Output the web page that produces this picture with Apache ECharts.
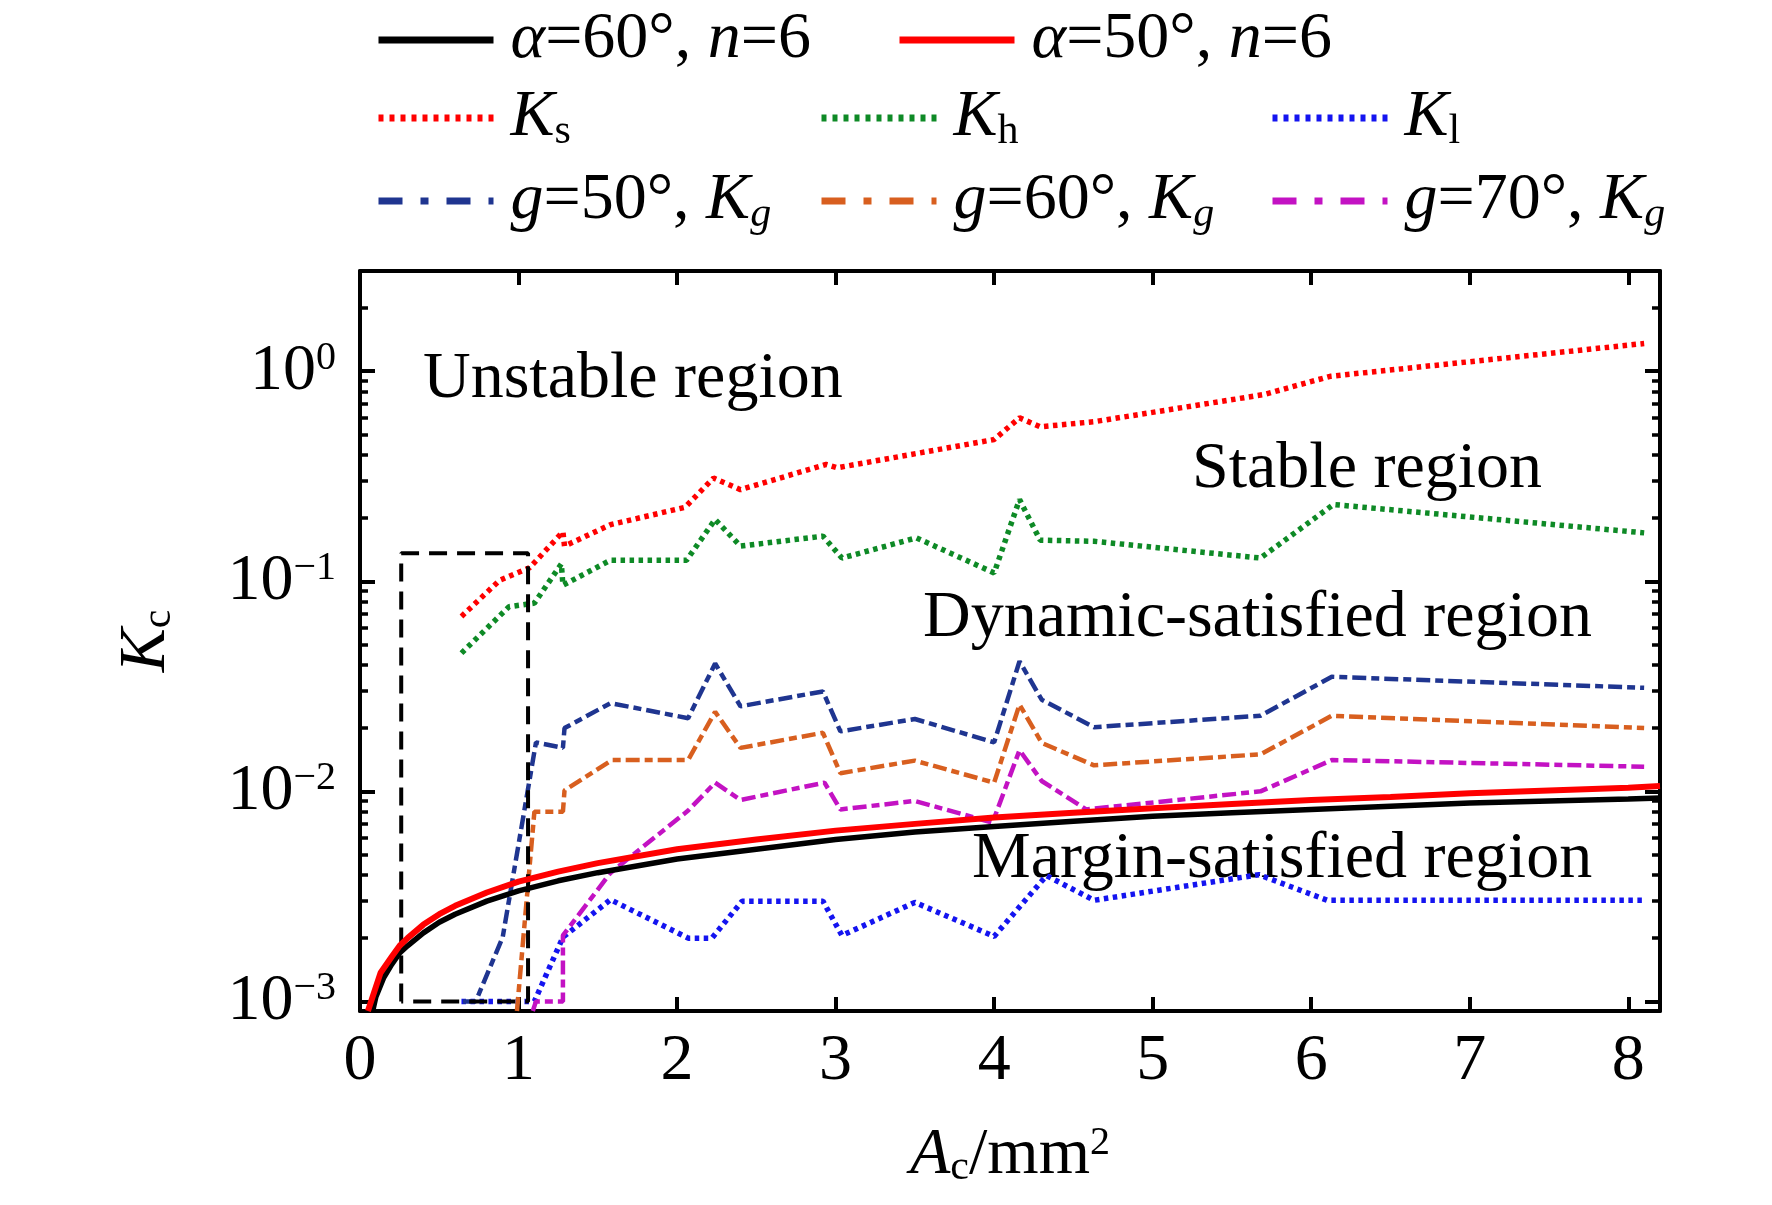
<!DOCTYPE html>
<html>
<head>
<meta charset="utf-8">
<script src="https://cdn.jsdelivr.net/npm/echarts@6/dist/echarts.min.js"></script>
<style>
html,body{margin:0;padding:0;background:#fff;}
#c{width:1772px;height:1205px;}
</style>
</head>
<body>
<div id="c"></div>
<script>
// ---------- data ----------
const a60X = [0.08,0.1,0.15,0.2,0.25,0.3,0.4,0.5,0.6,0.8,1.0,1.25,1.5,2,2.5,3,3.5,4,4.5,5,5.5,6,6.5,7,7.5,8,8.2];
const a60Y = [0.0009,0.00105,0.0013,0.0015,0.0017,0.00184,0.00212,0.00238,0.0026,0.003,0.00336,0.00375,0.0041,0.00476,0.0053,0.0059,0.0064,0.0068,0.0072,0.0076,0.0079,0.0082,0.0085,0.0088,0.009,0.0092,0.0093];
const a50X = [0.05,0.13,0.2,0.25,0.3,0.4,0.5,0.6,0.8,1.0,1.25,1.5,2,2.5,3,3.5,4,4.5,5,5.5,6,6.5,7,7.5,8,8.2];
const a50Y = [0.0009,0.00137,0.00163,0.00184,0.002,0.00232,0.0026,0.00285,0.0033,0.00372,0.00415,0.00455,0.0053,0.0059,0.0065,0.007,0.0075,0.0079,0.0083,0.0087,0.0091,0.0094,0.0098,0.0101,0.0104,0.0106];
const ksX = [0.64,0.88,1.07,1.28,1.29,1.58,2.05,2.23,2.40,2.94,3.01,4.0,4.16,4.29,4.63,5.70,6.12,8.1];
const ksY = [0.068,0.101,0.116,0.172,0.147,0.186,0.225,0.31,0.273,0.36,0.347,0.473,0.60,0.544,0.575,0.774,0.946,1.355];
const khX = [0.64,0.94,1.10,1.27,1.28,1.58,2.06,2.24,2.40,2.92,3.04,3.51,4.0,4.16,4.29,4.63,5.68,6.14,8.1];
const khY = [0.0455,0.0757,0.0787,0.121,0.0957,0.126,0.126,0.197,0.147,0.164,0.129,0.161,0.1096,0.245,0.157,0.155,0.129,0.232,0.17];
const klX = [0.64,1.10,1.28,1.58,2.07,2.22,2.41,2.92,3.04,3.50,4.0,4.33,4.63,5.67,6.10,8.1];
const klY = [0.001,0.001,0.00202,0.00305,0.002,0.002,0.003,0.003,0.00206,0.00296,0.00204,0.00397,0.00303,0.00401,0.00303,0.00303];
const g50X = [0.65,0.73,0.90,1.11,1.28,1.29,1.58,2.07,2.24,2.40,2.92,3.03,3.50,4.0,4.16,4.30,4.63,5.68,6.13,8.1];
const g50Y = [0.001,0.001,0.00202,0.0171,0.0161,0.02,0.0263,0.0223,0.0406,0.0254,0.0299,0.0193,0.0221,0.0171,0.0416,0.0273,0.0202,0.0229,0.0351,0.0311];
const g60X = [0.99,1.10,1.28,1.29,1.59,2.07,2.24,2.40,2.92,3.03,3.50,4.0,4.16,4.30,4.63,5.68,6.13,8.1];
const g60Y = [0.0009,0.008,0.008,0.0101,0.0141,0.0141,0.0239,0.0161,0.019,0.0122,0.014,0.011,0.0259,0.017,0.0133,0.015,0.0229,0.02];
const g70X = [1.09,1.11,1.28,1.28,1.58,2.07,2.24,2.40,2.93,3.03,3.50,3.99,4.16,4.30,4.58,5.68,6.13,8.1];
const g70Y = [0.0009,0.001,0.001,0.00206,0.00409,0.0081,0.011,0.0091,0.011,0.0082,0.009,0.0071,0.0157,0.0112,0.0082,0.01,0.0141,0.0131];
const boxX = [0.26,0.26,1.06,1.06,0.26];
const boxY = [0.001,0.136,0.136,0.001,0.001];
const xTickLabels = [0,1,2,3,4,5,6,7,8];
const yMinorTicks = [0.002,0.003,0.004,0.005,0.006,0.007,0.008,0.009,0.02,0.03,0.04,0.05,0.06,0.07,0.08,0.09,0.2,0.3,0.4,0.5,0.6,0.7,0.8,0.9,2,3];
const seriesNames = ['a60','a50','Ks','Kh','Kl','g50','g60','g70'];
const legendLabels = {
  a60: '{fi|α}=60°, {i|n}=6',
  a50: '{fi|α}=50°, {i|n}=6',
  Ks: '{fi|K}{sub|s}',
  Kh: '{fi|K}{sub|h}',
  Kl: '{fi|K}{sub|l}',
  g50: '{fi|g}=50°, {i|K}{isub|g}',
  g60: '{fi|g}=60°, {i|K}{isub|g}',
  g70: '{fi|g}=70°, {i|K}{isub|g}'
};
const regionLabels = ['Unstable region','Stable region','Dynamic-satisfied region','Margin-satisfied region'];

// ---------- chart ----------
const FONT = '"Liberation Serif","Times New Roman",serif';
const FS = 66;
const zip = (xs, ys) => xs.map((x, i) => [x, ys[i]]);
const richBase = {
  fi: {fontStyle:'italic', fontSize:FS, fontFamily:FONT, color:'#000', padding:[0,0,0,12]},
  i: {fontStyle:'italic', fontSize:FS, fontFamily:FONT, color:'#000'},
  sub: {fontSize:42, fontFamily:FONT, color:'#000', verticalAlign:'bottom', lineHeight:20},
  isub: {fontSize:42, fontStyle:'italic', fontFamily:FONT, color:'#000', verticalAlign:'bottom', lineHeight:20},
  b: {fontSize:FS, fontFamily:FONT, color:'#000'},
  sup: {fontSize:40, fontFamily:FONT, color:'#000', verticalAlign:'top', lineHeight:36}
};

const chart = echarts.init(document.getElementById('c'), null, {renderer:'canvas', width:1772, height:1205});

function lineSeries(name, xs, ys, color, width, type, z) {
  return {name, type:'line', data: zip(xs, ys), symbol:'none', showSymbol:false,
    lineStyle:{color, width, type}, itemStyle:{color}, z: z || 2, animation:false};
}
const DOT = [4.5,4.5];
const DASHDOT = [14,5,8,5];
const series = [
  lineSeries('Ks', ksX, ksY, '#ff0000', 5.5, DOT),
  lineSeries('Kh', khX, khY, '#0e8a26', 5.5, DOT),
  lineSeries('Kl', klX, klY, '#1414f0', 5.5, DOT),
  lineSeries('g50', g50X, g50Y, '#1f3590', 4.5, DASHDOT),
  lineSeries('g60', g60X, g60Y, '#d85f1f', 4.5, DASHDOT),
  lineSeries('g70', g70X, g70Y, '#c312c3', 4.5, DASHDOT),
  lineSeries('box', boxX, boxY, '#000', 4, [18,10]),
  lineSeries('a60', a60X, a60Y, '#000', 5.5, 'solid', 3),
  lineSeries('a50', a50X, a50Y, '#ff0000', 6, 'solid', 4)
];

const legendPos = {
  a60: [375, 40, 'solid'], a50: [896, 40, 'solid'],
  Ks: [375, 118, [5,6]], Kh: [818, 118, [5,6]], Kl: [1269, 118, [5,6]],
  g50: [375, 201, [24,18,8,18]], g60: [818, 201, [24,18,8,18]], g70: [1269, 201, [24,18,8,18]]
};
const legends = seriesNames.map(n => ({
  data:[n], left: legendPos[n][0], top: legendPos[n][1] - 35, padding:0, itemGap:0,
  itemWidth:115, itemHeight:20, selectedMode:false,
  itemStyle:{opacity:0, borderWidth:0},
  lineStyle:{width:7, type: legendPos[n][2]},
  formatter: nm => legendLabels[nm],
  textStyle:{fontSize:FS, fontFamily:FONT, color:'#000', lineHeight:70, rich: richBase}
}));

const axisLineStyle = {show:true, lineStyle:{color:'#000', width:4}};
const yLabelFmt = v => {
  const e = Math.round(Math.log10(v));
  if (Math.abs(v / Math.pow(10, e) - 1) > 1e-6) return '';
  return '{b|10}{sup|' + (e < 0 ? '−' + (-e) : e) + '}';
};
const yBase = {type:'log', logBase:10, min:0.0009, max:3, splitLine:{show:false}};
const T = (txt, x, y) => ({type:'text', x, y, silent:true,
  style:{text:txt, font:FS+'px '+FONT, fill:'#000', textAlign:'left', verticalAlign:'middle', textVerticalAlign:'middle'}});

const option = {
  backgroundColor:'#fff',
  animation:false,
  grid:{left:360, top:271, width:1300, height:740, containLabel:false},
  legend: legends,
  xAxis:[
    {type:'value', min:0, max:8.2, interval:1, position:'bottom',
     axisLine:axisLineStyle,
     axisTick:{inside:true, length:14, lineStyle:{color:'#000', width:4}, customValues:xTickLabels},
     axisLabel:{fontSize:FS, fontFamily:FONT, color:'#000', margin:18, customValues:xTickLabels},
     splitLine:{show:false},
     name:'{i|A}{sub|c}/mm{sup|2}', nameLocation:'middle', nameGap:112,
     nameTextStyle:{fontSize:FS, fontFamily:FONT, color:'#000', rich:richBase}},
    {type:'value', min:0, max:8.2, interval:1, position:'top',
     axisLine:axisLineStyle,
     axisTick:{inside:true, length:14, lineStyle:{color:'#000', width:4}, customValues:xTickLabels},
     axisLabel:{show:false}, splitLine:{show:false}}
  ],
  yAxis:[
    Object.assign({}, yBase, {position:'left', axisLine:axisLineStyle,
      axisTick:{inside:true, length:15, lineStyle:{color:'#000', width:4}},
      axisLabel:{fontSize:FS, fontFamily:FONT, color:'#000', margin:24, formatter:yLabelFmt, rich:richBase},
      name:'{i|K}{sub|c}', nameLocation:'middle', nameRotate:90, nameGap:180,
      nameTextStyle:{fontSize:FS, fontFamily:FONT, color:'#000', rich:richBase}}),
    Object.assign({}, yBase, {position:'left', axisLine:{show:false},
      axisTick:{inside:true, length:8, lineStyle:{color:'#000', width:3.5}, customValues:yMinorTicks},
      axisLabel:{show:false}}),
    Object.assign({}, yBase, {position:'right', axisLine:axisLineStyle,
      axisTick:{inside:true, length:15, lineStyle:{color:'#000', width:4}},
      axisLabel:{show:false}}),
    Object.assign({}, yBase, {position:'right', axisLine:{show:false},
      axisTick:{inside:true, length:8, lineStyle:{color:'#000', width:3.5}, customValues:yMinorTicks},
      axisLabel:{show:false}})
  ],
  graphic:[
    T(regionLabels[0], 423, 380),
    T(regionLabels[1], 1192, 470),
    T(regionLabels[2], 923, 619),
    T(regionLabels[3], 972, 860)
  ],
  series: series
};
chart.setOption(option);
</script>
</body>
</html>
